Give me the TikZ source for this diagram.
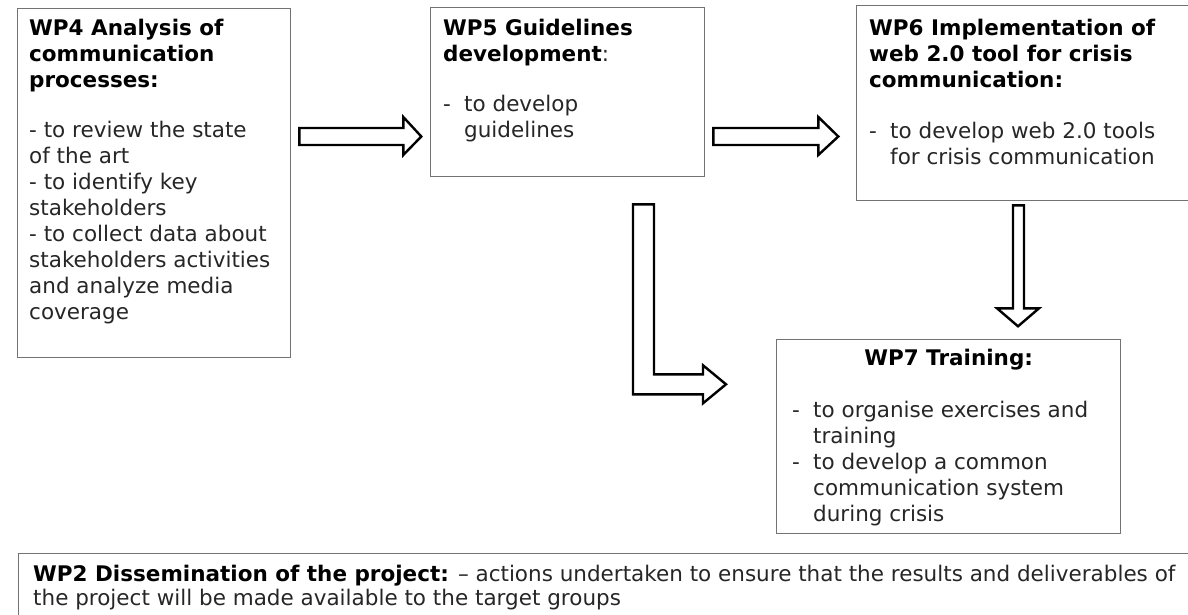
\documentclass[tikz,border=0pt]{standalone}
\usepackage{fontspec}
\setmainfont{DejaVu Sans}
\usepackage{tikz}
\usetikzlibrary{calc,positioning}

\newcommand{\wpdash}{\makebox[21pt][l]{-}}
\newcommand{\wpind}{\hspace*{21pt}}

\begin{document}
\begin{tikzpicture}[x=1pt,y=-1pt,
wp/.style={rectangle, draw=black!55, line width=1.3pt, anchor=north west, inner sep=0},
lab/.style={anchor=north west, inner sep=0, align=left, text=black!85, font=\fontsize{21.5}{26}\selectfont},
ttl/.style={inner sep=0, text=black, font=\fontsize{21.5}{26}\selectfont\bfseries},
blk/.style={draw, line width=2.4pt, fill=white, miter limit=10}]

\useasboundingbox (0,0) rectangle (1188,615);

\node[wp, minimum width=273pt, minimum height=349pt] at (17,8) (wp4) {};
\node[wp, minimum width=274pt, minimum height=169pt] at (430,7) (wp5) {};
\node[wp, minimum width=340pt, minimum height=195pt] at (856,5) (wp6) {};
\node[wp, minimum width=344pt, minimum height=194pt] at (776,339) (wp7) {};
\node[wp, minimum width=1200pt, minimum height=100pt] at (18,553) (wp2) {};

% work package texts
\node[lab] at ($(wp4.north west)+(12,11)$) (wp4txt) {\textbf{\color{black}WP4 Analysis of}\\\textbf{\color{black}communication}\\\textbf{\color{black}processes:}\\[24pt]- to review the state\\of the art\\- to identify key\\stakeholders\\- to collect data about\\stakeholders activities\\and analyze media\\coverage};
\node[lab] at ($(wp5.north west)+(13,12)$) (wp5txt) {\textbf{\color{black}WP5 Guidelines}\\\textbf{\color{black}development}:\\[24pt]\wpdash to develop\\\wpind guidelines};
\node[lab] at ($(wp6.north west)+(13,14)$) (wp6txt) {\textbf{\color{black}WP6 Implementation of}\\\textbf{\color{black}web 2.0 tool for crisis}\\\textbf{\color{black}communication:}\\[25pt]\wpdash to develop web 2.0 tools\\\wpind for crisis communication};
\node[ttl, anchor=base] at ($(wp7.north)+(0,26)$) (wp7ttl) {WP7 Training:};
\node[lab] at ($(wp7.north west)+(16,62)$) (wp7txt) {\wpdash to organise exercises and\\\wpind training\\\wpdash to develop a common\\\wpind communication system\\\wpind during crisis};
\node[lab, font=\fontsize{21.5}{24}\selectfont] at ($(wp2.north west)+(15,12)$) (wp2txt) {\textbf{\color{black}WP2 Dissemination of the project:} -- actions undertaken to ensure that the results and deliverables of\\the project will be made available to the target groups};

% block arrows
\draw[blk] ($(wp4.north east)+(8,120)$) -- ++(104,0) -- ++(0,-11) -- ++(18,19.5) -- ++(-18,18.5) -- ++(0,-10) -- ++(-104,0) -- cycle;
\draw[blk] ($(wp5.north east)+(8,121)$) -- ++(105,0) -- ++(0,-11) -- ++(20,19.5) -- ++(-20,18.5) -- ++(0,-10) -- ++(-105,0) -- cycle;
\draw[blk] ($(wp6.south west)+(157,4)$) -- ++(0,103) -- ++(-16,0) -- ++(21,18) -- ++(21,-18) -- ++(-15,0) -- ++(0,-103) -- cycle;
\draw[blk] ($(wp5.south west)+(203,27)$) -- ++(0,190) -- ++(70,0) -- ++(0,9) -- ++(23,-19) -- ++(-23,-19) -- ++(0,9) -- ++(-49,0) -- ++(0,-170) -- cycle;
\end{tikzpicture}
\end{document}
